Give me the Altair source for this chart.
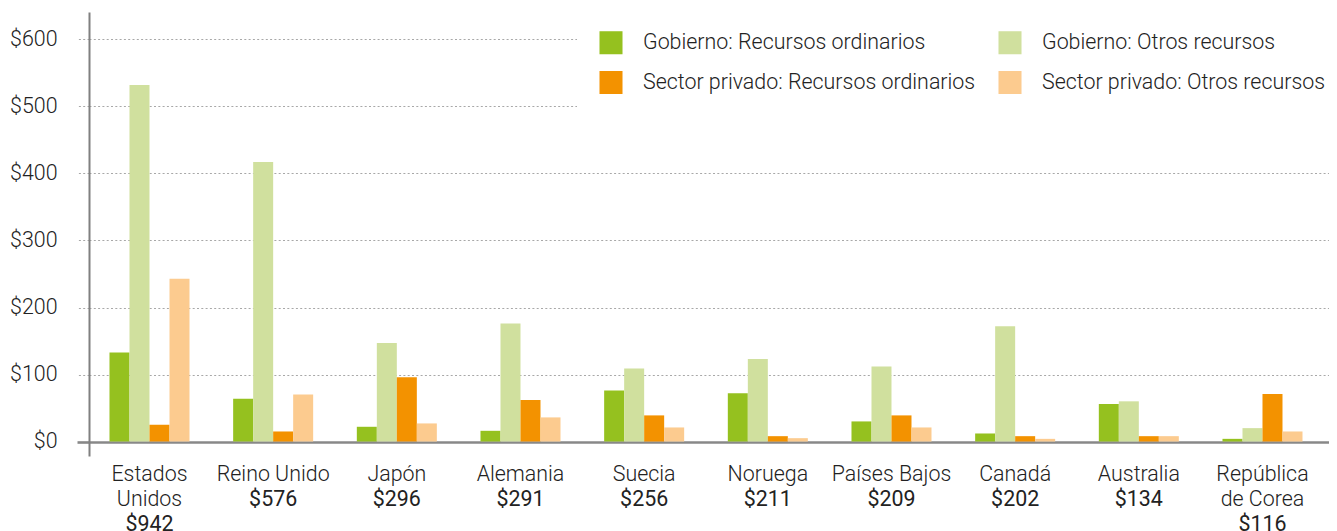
import altair as alt
import pandas as pd

countries = ["Estados|Unidos", "Reino Unido", "Japón", "Alemania", "Suecia",
             "Noruega", "Países Bajos", "Canadá", "Australia", "República|de Corea"]
totals = ["$942", "$576", "$296", "$291", "$256", "$211", "$209", "$202", "$134", "$116"]

series = ["Gobierno: Recursos ordinarios", "Gobierno: Otros recursos",
          "Sector privado: Recursos ordinarios", "Sector privado: Otros recursos"]
colors = ["#95c11f", "#d0e09e", "#f39200", "#fccb8f"]

gov_ord = [133, 64, 22, 16, 76, 72, 30, 12, 56, 4]
gov_other = [532, 417, 147, 176, 109, 123, 112, 172, 60, 20]
priv_ord = [25, 15, 96, 62, 39, 8, 39, 8, 8, 71]
priv_other = [243, 70, 27, 36, 21, 5, 21, 4, 8, 15]

y_ticks = [0, 100, 200, 300, 400, 500, 600]

labels = [c + "|" + t for c, t in zip(countries, totals)]
rows = []
for i, lab in enumerate(labels):
    for s, vals in zip(series, [gov_ord, gov_other, priv_ord, priv_other]):
        rows.append({"pais": lab, "serie": s, "valor": vals[i]})
df = pd.DataFrame(rows)

FONT = "Roboto"
FS = 21.4
LH = 25
PAD = 7
xscale = alt.Scale(paddingInner=0.353, paddingOuter=0.19, align=0.436, round=False)

axis_names = alt.Axis(
    orient="bottom", title=None, labelAngle=0,
    labelExpr="slice(split(datum.label,'|'),0,-1)",
    labelFont=FONT, labelFontWeight=300, labelFontSize=FS, labelLineHeight=LH,
    labelPadding=PAD, labelColor="#222", ticks=False, domain=False, labelLimit=0,
    labelBaseline="top", grid=False,
)
three_lines = "length(split(datum.label,'|')) == 3"
axis_totals = alt.Axis(
    orient="bottom", title=None, labelAngle=0,
    labelExpr="peek(split(datum.label,'|'))",
    labelFont=FONT, labelFontWeight=400, labelFontSize=FS, labelLineHeight=LH,
    labelPadding={"condition": {"test": three_lines, "value": PAD + 2 * LH},
                  "value": PAD + LH},
    labelColor="#222", ticks=False, domain=False, labelLimit=0,
    labelBaseline="top", grid=False,
)

is_zero = "datum.value === 0"
yaxis = alt.Axis(
    title=None, values=y_ticks, labelExpr="'$' + datum.value",
    labelFont=FONT, labelFontWeight=300, labelFontSize=FS, labelColor="#222",
    labelPadding=20, tickSize=12,
    grid=True,
    gridColor={"condition": {"test": is_zero, "value": "#888888"}, "value": "#a8a8a8"},
    gridWidth={"condition": {"test": is_zero, "value": 2.6}, "value": 1},
    gridDash={"condition": {"test": is_zero, "value": []}, "value": [2, 2.3]},
    tickColor={"condition": {"test": is_zero, "value": "#888888"}, "value": "#a8a8a8"},
    tickWidth={"condition": {"test": is_zero, "value": 2.6}, "value": 1},
    tickDash={"condition": {"test": is_zero, "value": []}, "value": [2, 2.3]},
    domainColor="#808080", domainWidth=2,
)

bars = alt.Chart(df).mark_bar().encode(
    x=alt.X("pais:N", sort=labels, scale=xscale, axis=axis_names),
    xOffset=alt.XOffset("serie:N", sort=series,
                        scale=alt.Scale(paddingInner=0, paddingOuter=0)),
    y=alt.Y("valor:Q", scale=alt.Scale(domain=[-21.6, 641], nice=False, zero=False),
            axis=yaxis),
    color=alt.Color(
        "serie:N", sort=series,
        scale=alt.Scale(domain=series, range=colors),
        legend=alt.Legend(
            title=None, orient="none", legendX=488, legendY=-3.5, columns=2,
            direction="horizontal",
            fillColor="white", padding=22,
            symbolType="square", symbolSize=530, symbolStrokeWidth=0, symbolOpacity=1,
            labelFont=FONT, labelFontWeight=300, labelFontSize=FS, labelColor="#222",
            labelOffset=20, rowPadding=16, columnPadding=22, labelLimit=0,
        ),
    ),
)

totals_layer = alt.Chart(df).mark_point(opacity=0).encode(
    x=alt.X("pais:N", sort=labels, scale=xscale, axis=axis_totals),
)

chart = alt.layer(bars, totals_layer).resolve_axis(x="independent").properties(
    width=1240, height=444,
    autosize=alt.AutoSizeParams(type="none"),
    padding={"left": 81, "top": 4, "right": 0, "bottom": 79},
).configure_view(stroke=None)

chart.save("out.html", embed_options={"renderer": "svg", "actions": False})
